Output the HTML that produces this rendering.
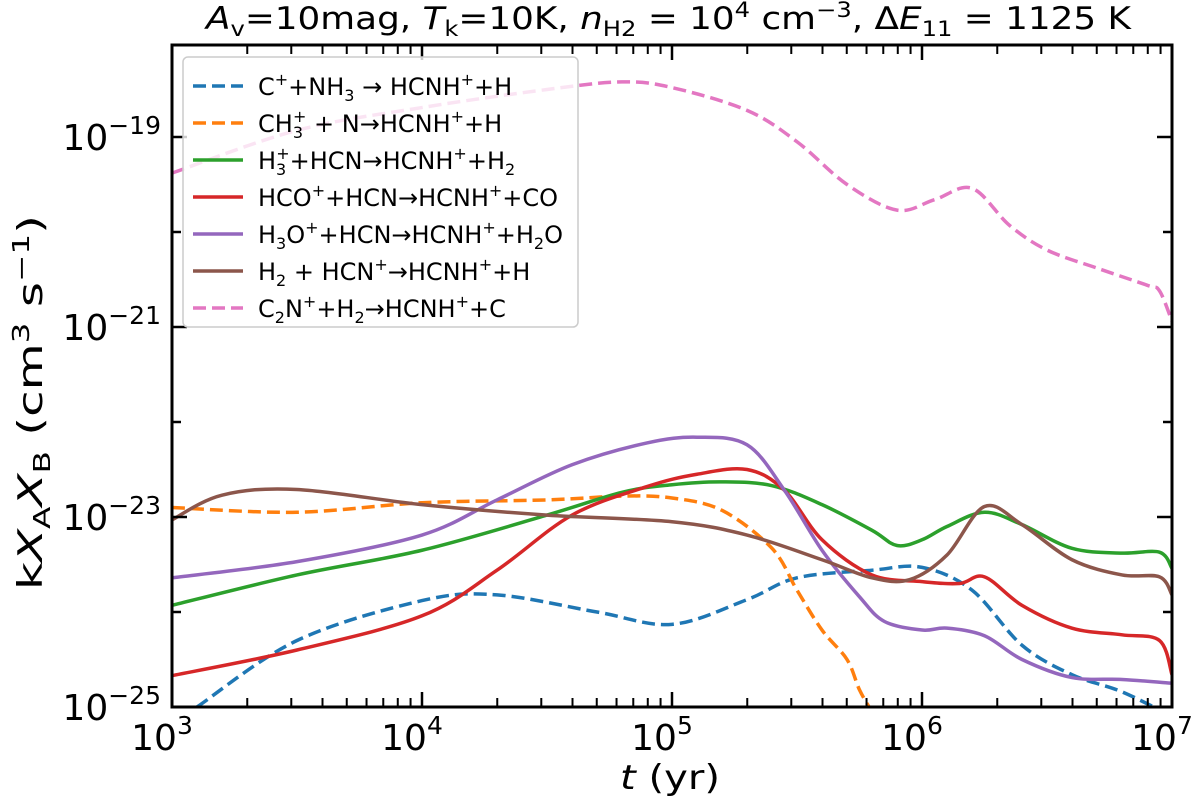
<!DOCTYPE html>
<html><head><meta charset="utf-8"><style>
body{margin:0;background:#fff}
svg text{font-family:"DejaVu Sans","Liberation Sans",sans-serif;fill:#000}
</style></head><body>
<svg id="c" width="1200" height="803">
<defs><clipPath id="clip"><rect x="172" y="45" width="1000" height="662"/></clipPath></defs>
<text x="206" y="29" font-size="31" textLength="925" lengthAdjust="spacingAndGlyphs"><tspan font-style="italic">A</tspan><tspan font-size="21" dy="7">v</tspan><tspan dy="-7">=10mag, </tspan><tspan font-style="italic">T</tspan><tspan font-size="21" dy="7">k</tspan><tspan dy="-7">=10K, </tspan><tspan font-style="italic">n</tspan><tspan font-size="21" dy="7">H2</tspan><tspan dy="-7"> = 10</tspan><tspan font-size="21" dy="-12">4</tspan><tspan dy="12"> cm</tspan><tspan font-size="21" dy="-12">−3</tspan><tspan dy="12">, Δ</tspan><tspan font-style="italic">E</tspan><tspan font-size="21" dy="7">11</tspan><tspan dy="-7"> = 1125 K</tspan></text>
<g id="series" clip-path="url(#clip)"></g>
<g id="axes"></g>
<text x="620" y="789" font-size="34" textLength="100" lengthAdjust="spacingAndGlyphs"><tspan font-style="italic">t</tspan> (yr)</text>
<text transform="translate(42,590) rotate(-90)" font-size="34" textLength="375" lengthAdjust="spacingAndGlyphs">k<tspan font-style="italic">X</tspan><tspan font-size="23" dy="8">A</tspan><tspan font-style="italic" dy="-8">X</tspan><tspan font-size="23" dy="8">B</tspan><tspan dy="-8"> (cm</tspan><tspan font-size="23" dy="-13">3</tspan><tspan dy="13"> s</tspan><tspan font-size="23" dy="-13">−1</tspan><tspan dy="13">)</tspan></text>
<g id="legend">
<rect x="183" y="57" width="395" height="270" rx="5" fill="#fff" fill-opacity="0.8" stroke="#ccc" stroke-width="1.5"/>
</g>
</svg>
<script>
const blueX=[3.1,3.5,4.0,4.3,4.7,5.0,5.3,5.5,5.8,6.0,6.2,6.4,6.6,6.8,7.0];
const blueY=[-25,-24.3,-23.88,-23.82,-24.0,-24.13,-23.87,-23.64,-23.56,-23.53,-23.77,-24.35,-24.66,-24.84,-25.1];
const orangeX=[3.0,3.5,4.0,4.5,4.8,5.0,5.2,5.4,5.5,5.6,5.7,5.75,5.8];
const orangeY=[-22.9,-22.95,-22.85,-22.82,-22.78,-22.8,-22.93,-23.33,-23.77,-24.19,-24.5,-24.82,-25.05];
const greenX=[3.0,3.5,4.0,4.5,4.8,5.0,5.2,5.4,5.6,5.8,5.9,6.0,6.1,6.25,6.4,6.6,6.8,6.95,7.0];
const greenY=[-23.93,-23.61,-23.35,-22.98,-22.74,-22.66,-22.63,-22.67,-22.87,-23.14,-23.3,-23.24,-23.1,-22.95,-23.08,-23.33,-23.38,-23.37,-23.54];
const redX=[3.0,3.5,4.0,4.3,4.6,4.9,5.1,5.3,5.45,5.6,5.8,6.0,6.15,6.25,6.4,6.6,6.8,6.95,7.0];
const redY=[-24.67,-24.4,-24.04,-23.56,-22.98,-22.68,-22.55,-22.5,-22.72,-23.24,-23.61,-23.68,-23.7,-23.63,-23.93,-24.17,-24.24,-24.3,-24.66];
const purpleX=[3.0,3.5,4.0,4.3,4.6,4.9,5.1,5.3,5.45,5.6,5.75,5.85,6.0,6.1,6.25,6.4,6.6,6.8,7.0];
const purpleY=[-23.64,-23.47,-23.19,-22.82,-22.45,-22.22,-22.16,-22.24,-22.72,-23.35,-23.84,-24.1,-24.19,-24.17,-24.25,-24.5,-24.69,-24.71,-24.75];
const brownX=[3.0,3.2,3.5,4.0,4.5,5.0,5.3,5.6,5.8,5.95,6.1,6.25,6.4,6.6,6.8,6.95,7.0];
const brownY=[-23.03,-22.77,-22.71,-22.87,-22.98,-23.05,-23.19,-23.45,-23.64,-23.66,-23.4,-22.89,-23.08,-23.45,-23.61,-23.63,-23.82];
const pinkX=[3.0,3.5,4.0,4.5,4.8,5.0,5.3,5.5,5.7,5.9,6.05,6.2,6.35,6.5,6.7,6.9,6.95,7.0];
const pinkY=[-19.38,-18.93,-18.69,-18.5,-18.42,-18.48,-18.72,-19.05,-19.5,-19.77,-19.66,-19.54,-19.93,-20.19,-20.38,-20.56,-20.62,-20.94];
const xTickLabels=["3","4","5","6","7"];
const yTickLabels=["-25","-23","-21","-19"];
const names=[
 'C<tspan font-size="16" dy="-10">+</tspan><tspan dy="10">+NH</tspan><tspan font-size="16" dy="6">3</tspan><tspan dy="-6"> → HCNH</tspan><tspan font-size="16" dy="-10">+</tspan><tspan dy="10">+H</tspan>',
 'CH<tspan font-size="16" dy="6">3</tspan><tspan font-size="16" dx="-10" dy="-16">+</tspan><tspan dy="10"> + N→HCNH</tspan><tspan font-size="16" dy="-10">+</tspan><tspan dy="10">+H</tspan>',
 'H<tspan font-size="16" dy="6">3</tspan><tspan font-size="16" dx="-10" dy="-16">+</tspan><tspan dy="10">+HCN→HCNH</tspan><tspan font-size="16" dy="-10">+</tspan><tspan dy="10">+H</tspan><tspan font-size="16" dy="6">2</tspan>',
 'HCO<tspan font-size="16" dy="-10">+</tspan><tspan dy="10">+HCN→HCNH</tspan><tspan font-size="16" dy="-10">+</tspan><tspan dy="10">+CO</tspan>',
 'H<tspan font-size="16" dy="6">3</tspan><tspan dy="-6">O</tspan><tspan font-size="16" dy="-10">+</tspan><tspan dy="10">+HCN→HCNH</tspan><tspan font-size="16" dy="-10">+</tspan><tspan dy="10">+H</tspan><tspan font-size="16" dy="6">2</tspan><tspan dy="-6">O</tspan>',
 'H<tspan font-size="16" dy="6">2</tspan><tspan dy="-6"> + HCN</tspan><tspan font-size="16" dy="-10">+</tspan><tspan dy="10">→HCNH</tspan><tspan font-size="16" dy="-10">+</tspan><tspan dy="10">+H</tspan>',
 'C<tspan font-size="16" dy="6">2</tspan><tspan dy="-6">N</tspan><tspan font-size="16" dy="-10">+</tspan><tspan dy="10">+H</tspan><tspan font-size="16" dy="6">2</tspan><tspan dy="-6">→HCNH</tspan><tspan font-size="16" dy="-10">+</tspan><tspan dy="10">+C</tspan>'];

const NS="http://www.w3.org/2000/svg";
const X=l=>172+(l-3)*250;
const Y=l=>707-(l+25)*95;
function mk(tag,attrs,parent){const e=document.createElementNS(NS,tag);for(const k in attrs)e.setAttribute(k,attrs[k]);parent.appendChild(e);return e;}
function smooth(xs,ys){
  const p=xs.map((x,i)=>[X(x),Y(ys[i])]);
  let d="M"+p[0][0]+","+p[0][1];
  for(let i=0;i<p.length-1;i++){
    const p0=p[i-1]||p[i],p1=p[i],p2=p[i+1],p3=p[i+2]||p2;
    const c1=[p1[0]+(p2[0]-p0[0])/6,p1[1]+(p2[1]-p0[1])/6];
    const c2=[p2[0]-(p3[0]-p1[0])/6,p2[1]-(p3[1]-p1[1])/6];
    d+=" C"+c1+" "+c2+" "+p2;
  }
  return d;
}
const ser=[
 ["series-c-plus-nh3",blueX,blueY,"#1f77b4",true],
 ["series-ch3-plus-n",orangeX,orangeY,"#ff7f0e",true],
 ["series-h3-plus-hcn",greenX,greenY,"#2ca02c",false],
 ["series-hco-plus-hcn",redX,redY,"#d62728",false],
 ["series-h3o-plus-hcn",purpleX,purpleY,"#9467bd",false],
 ["series-h2-hcn-plus",brownX,brownY,"#8c564b",false],
 ["series-c2n-plus-h2",pinkX,pinkY,"#e377c2",true]];
const sg=document.getElementById("series");
ser.forEach(s=>{
  const p=mk("path",{d:smooth(s[1],s[2]),fill:"none",stroke:s[3],"stroke-width":3.5,"stroke-dasharray":s[4]?"13,6":"none"},sg);
  
  
});
const ax=document.getElementById("axes");
const fr=mk("rect",{x:172,y:45,width:1000,height:662,fill:"none",stroke:"#000","stroke-width":3},ax);


for(let d=3;d<=7;d++){
  const x=X(d);
  mk("line",{x1:x,x2:x,y1:707,y2:692,stroke:"#000","stroke-width":2.5},ax);
  mk("line",{x1:x,x2:x,y1:45,y2:60,stroke:"#000","stroke-width":2.5},ax);
  if(d<7)for(let m=2;m<=9;m++){const xm=X(d+Math.log10(m));
    mk("line",{x1:xm,x2:xm,y1:707,y2:698,stroke:"#000","stroke-width":2},ax);
    mk("line",{x1:xm,x2:xm,y1:45,y2:54,stroke:"#000","stroke-width":2},ax);}
}
xTickLabels.forEach((t,i)=>{
  const tx=mk("text",{x:X(+t)-10,y:750,"text-anchor":"middle","font-size":36},ax);
  
  
  tx.innerHTML='10<tspan font-size="25" dy="-16">'+t+'</tspan>';
});
for(let l=-25;l<=-18;l++){const y=Y(l);if(y<45)continue;
  const len=(l%2!==0)?15:9;
  mk("line",{x1:172,x2:172+len,y1:y,y2:y,stroke:"#000","stroke-width":2.5},ax);
  mk("line",{x1:1172,x2:1172-len,y1:y,y2:y,stroke:"#000","stroke-width":2.5},ax);}
yTickLabels.forEach(t=>{
  const tx=mk("text",{x:161,y:Y(+t)+13,"text-anchor":"end","font-size":36},ax);
  
  
  tx.innerHTML='10<tspan font-size="25" dy="-16">'+t.replace("-","−")+'</tspan>';
});
const lg=document.getElementById("legend");
names.forEach((n,i)=>{
  const y=86+i*37;
  mk("line",{x1:193,x2:243,y1:y,y2:y,stroke:ser[i][3],"stroke-width":3.5,"stroke-dasharray":ser[i][4]?"13,6":"none"},lg);
  const t=mk("text",{x:258,y:y+9,"font-size":24},lg);
  t.innerHTML=n;
  
  
});
</script>
</body></html>
